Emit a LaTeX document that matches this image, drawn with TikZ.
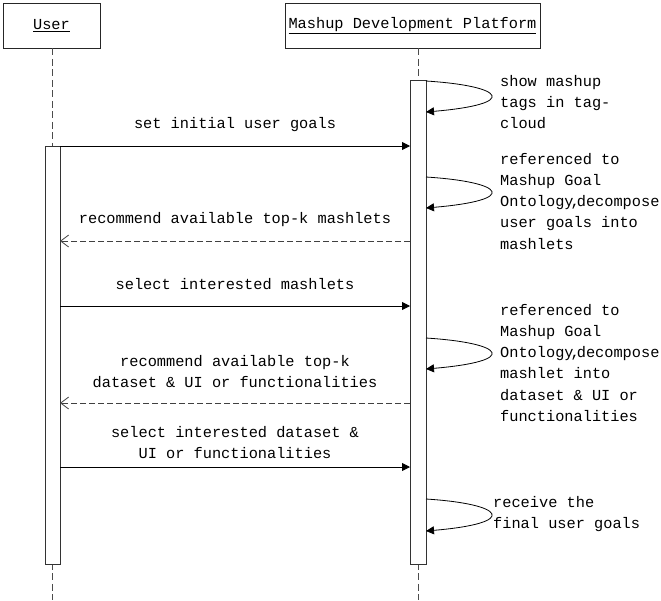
\documentclass[tikz,border=0pt]{standalone}
\usepackage{fontspec}
\setmainfont{Liberation Mono}
\usetikzlibrary{arrows.meta}
\newcommand{\narrowcomma}{\kern-3pt,\kern-3pt}
\tikzset{
  lbl/.style={font=\fontsize{15.3}{21.3}\selectfont, inner sep=0pt},
  actor/.style={draw=black!85, line width=0.8pt, fill=white, inner sep=0pt, font=\fontsize{15.3}{21.3}\selectfont},
  lifeline/.style={draw=black!70, line width=0.8pt, dash pattern=on 7pt off 3.5pt},
  actbar/.style={draw=black!80, line width=0.9pt, fill=white, inner sep=0pt},
  callmsg/.style={line width=0.8pt, -{Triangle[length=8pt,width=8pt]}},
  retmsg/.style={draw=black!75, line width=0.8pt, dash pattern=on 6pt off 3pt, -{Straight Barb[length=8pt,width=12pt]}},
  selfmsg/.style={line width=0.8pt, -{Triangle[length=8pt,width=8pt]}}
}
\begin{document}
\begin{tikzpicture}[x=1pt,y=-1pt]
\useasboundingbox (0,0) rectangle (661,600);
% actors
\node[actor, minimum width=97pt, minimum height=45pt] (user) at (51.5,25.5) {\underline{User}};
\node[actor, minimum width=255pt, minimum height=45pt] (mdp) at (412.5,25.5) {\underline{Mashup Development Platform}};
% lifeline end points
\coordinate (uend) at (52,600);
\coordinate (mend) at (418,600);
\draw[lifeline] (user.south -| uend) -- (uend);
\draw[lifeline] (mdp.south -| mend) -- (mend);
% activation bars
\node[actbar, minimum width=15pt, minimum height=418pt] (ubar) at (52.5,355) {};
\node[actbar, minimum width=16pt, minimum height=484pt] (mbar) at (418,322) {};
% self calls
\coordinate (s1a) at (426,81);  \coordinate (s1b) at (426,112);
\coordinate (s2a) at (426,177); \coordinate (s2b) at (426,208);
\coordinate (s3a) at (426,338); \coordinate (s3b) at (426,369);
\coordinate (s4a) at (426,499); \coordinate (s4b) at (426,531);
\draw[selfmsg] (s1a) .. controls (505,86) and (520,104) .. (s1b);
\draw[selfmsg] (s2a) .. controls (505,182) and (520,200) .. (s2b);
\draw[selfmsg] (s3a) .. controls (505,343) and (520,361) .. (s3b);
\draw[selfmsg] (s4a) .. controls (505,504) and (520,523) .. (s4b);
% multi-line nodes: base anchor = baseline of the last line
\node[lbl, anchor=base west, align=left] (t1) at (500,128.6) {show mashup\\tags in tag-\\cloud};
\node[lbl, anchor=base west, align=left] (t2) at (500,249.2) {referenced to\\Mashup Goal\\Ontology\narrowcomma decompose\\user goals into\\mashlets};
\node[lbl, anchor=base west, align=left] (t3) at (500,421.5) {referenced to\\Mashup Goal\\Ontology\narrowcomma decompose\\mashlet into\\dataset \& UI or\\functionalities};
\node[lbl, anchor=base west, align=left] (t4) at (493,528.3) {receive the\\final user goals};
% messages
\coordinate (m1a) at (60,146);  \coordinate (m1b) at (410,146);
\coordinate (m2a) at (410,241); \coordinate (m2b) at (60,241);
\coordinate (m3a) at (60,306);  \coordinate (m3b) at (410,306);
\coordinate (m4a) at (410,403); \coordinate (m4b) at (60,403);
\coordinate (m5a) at (60,467);  \coordinate (m5b) at (410,467);
\draw[callmsg] (m1a) -- (m1b);
\draw[retmsg] (m2a) -- (m2b);
\draw[callmsg] (m3a) -- (m3b);
\draw[retmsg] (m4a) -- (m4b);
\draw[callmsg] (m5a) -- (m5b);
\node[lbl, anchor=base] (l1) at (235,128) {set initial user goals};
\node[lbl, anchor=base] (l2) at (235,223) {recommend available top-k mashlets};
\node[lbl, anchor=base] (l3) at (235,289) {select interested mashlets};
\node[lbl, anchor=base, align=center] (l4) at (235,387.3) {recommend available top-k\\dataset \& UI or functionalities};
\node[lbl, anchor=base, align=center] (l5) at (235,458.3) {select interested dataset \&\\UI or functionalities};
\end{tikzpicture}
\end{document}
